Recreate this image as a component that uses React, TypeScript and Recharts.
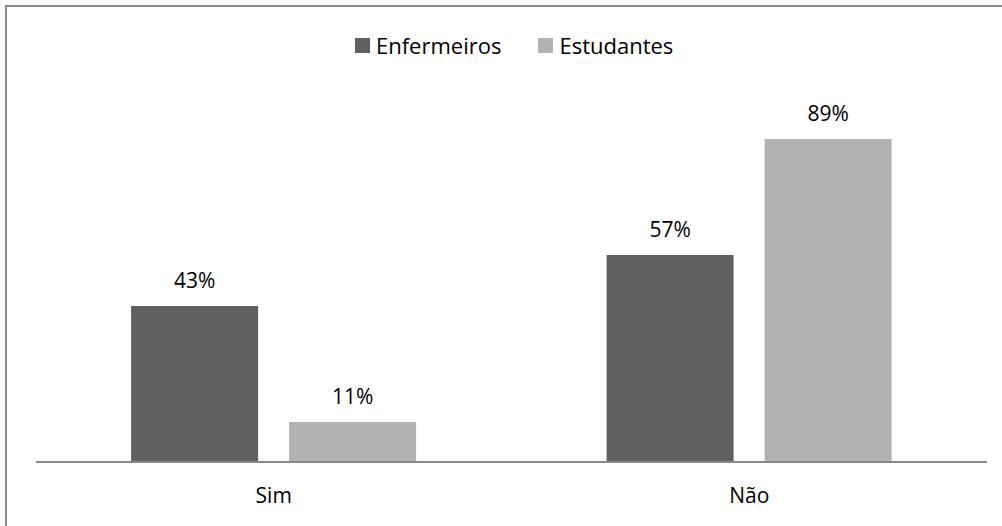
import { BarChart, Bar, XAxis, YAxis, LabelList } from 'recharts';

// Chart values (percent)
const categories = ['Sim', 'Não'];
const enfermeiros = [43, 57];
const estudantes = [11, 89];

const SERIES = [
    { key: 'enfermeiros', label: 'Enfermeiros', color: '#606060' },
    { key: 'estudantes', label: 'Estudantes', color: '#b2b2b2' },
];

const chartData = categories.map((name, i) => ({
    name,
    enfermeiros: enfermeiros[i],
    estudantes: estudantes[i],
}));

const FONT = '"Open Sans", "DejaVu Sans", sans-serif';

const renderTick = ({ x, y, payload }: any) => (
    <text x={x} y={y + 41} textAnchor="middle" fontFamily={FONT} fontSize={21} fill="#000">
        {payload.value}
    </text>
);

const renderLabel = ({ x, y, width, value }: any) => (
    <text x={x + width / 2} y={y - 18} textAnchor="middle" fontFamily={FONT} fontSize={21} fill="#000">
        {value}%
    </text>
);

export default function App() {
    return (
        <div style={{ position: 'absolute', left: 0, top: 0, width: 1002, height: 526, background: '#fff', overflow: 'hidden' }}>
            {/* outer frame */}
            <div
                style={{
                    position: 'absolute',
                    left: 5,
                    top: 5,
                    width: 1100,
                    height: 600,
                    borderTop: '2px solid #898989',
                    borderLeft: '2px solid #898989',
                }}
            />

            {/* Legend */}
            <div
                style={{
                    position: 'absolute',
                    left: 355,
                    top: 30,
                    height: 30,
                    display: 'flex',
                    alignItems: 'center',
                    fontFamily: FONT,
                    fontSize: 22,
                    color: '#000',
                    whiteSpace: 'nowrap',
                }}
            >
                {SERIES.map((s, i) => (
                    <div key={s.key} style={{ display: 'flex', alignItems: 'center', marginLeft: i === 0 ? 0 : 37 }}>
                        <div style={{ width: 15, height: 15, background: s.color, marginRight: 6 }} />
                        <span>{s.label}</span>
                    </div>
                ))}
            </div>

            <BarChart
                width={1002}
                height={526}
                data={chartData}
                margin={{ top: 99, right: 15, bottom: 34, left: 36 }}
                barCategoryGap="20%"
                barGap={31}
                style={{ position: 'absolute', left: 0, top: 0 }}
            >
                <XAxis
                    dataKey="name"
                    axisLine={{ stroke: '#898989', strokeWidth: 2 }}
                    tickLine={false}
                    tickSize={0}
                    tickMargin={0}
                    tick={renderTick}
                />
                <YAxis hide domain={[0, 100]} />
                {SERIES.map((s) => (
                    <Bar key={s.key} dataKey={s.key} fill={s.color} isAnimationActive={false}>
                        <LabelList dataKey={s.key} content={renderLabel} />
                    </Bar>
                ))}
            </BarChart>
        </div>
    );
}
